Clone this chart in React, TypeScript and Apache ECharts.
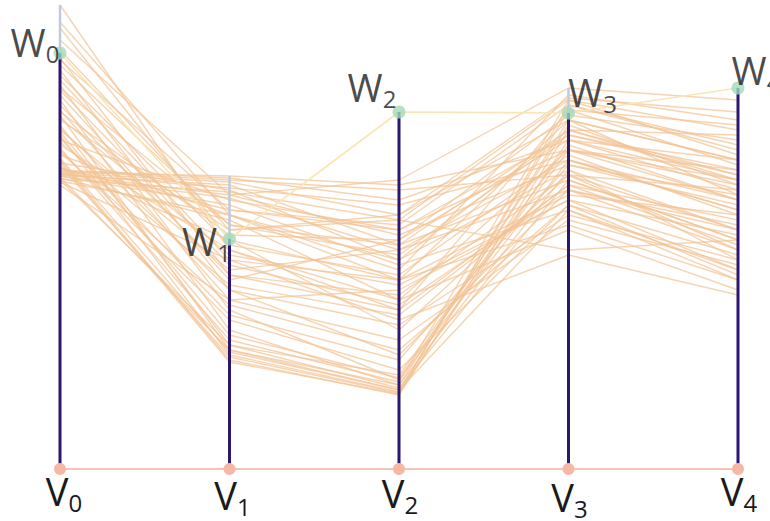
import React, { useEffect, useRef } from "react";
import * as echarts from "echarts";

// Axis names and the level marked on each axis
const axisNames = ["V", "V", "V", "V", "V"];
const markNames = ["W", "W", "W", "W", "W"];
const markLevels = [416, 230, 357, 356, 381];

// Profiles, one value per axis (V0..V4)
const profiles: number[][] = [
  [464, 219, 169, 319, 269],
  [447, 254, 209, 339, 289],
  [441, 229, 139, 294, 239],
  [399, 179, 114, 279, 219],
  [389, 209, 189, 349, 309],
  [384, 159, 89, 309, 259],
  [374, 189, 229, 329, 279],
  [369, 139, 84, 299, 209],
  [359, 169, 179, 269, 199],
  [354, 119, 79, 259, 189],
  [349, 239, 249, 369, 339],
  [344, 124, 81, 289, 229],
  [339, 199, 219, 309, 269],
  [334, 114, 77, 359, 304],
  [329, 269, 239, 319, 284],
  [324, 219, 159, 284, 249],
  [319, 149, 99, 264, 214],
  [314, 254, 199, 374, 349],
  [309, 109, 74, 339, 294],
  [306, 279, 209, 299, 239],
  [302, 229, 189, 274, 254],
  [299, 291, 269, 329, 309],
  [297, 293, 284, 319, 299],
  [296, 287, 254, 349, 274],
  [295, 274, 234, 304, 264],
  [294, 284, 224, 289, 229],
  [293, 264, 204, 259, 199],
  [292, 119, 84, 344, 284],
  [291, 249, 169, 239, 179],
  [289, 124, 94, 324, 269],
  [287, 209, 149, 214, 174],
  [284, 169, 129, 249, 204],
  [409, 259, 244, 364, 319],
  [404, 244, 214, 334, 294],
  [394, 224, 194, 314, 254],
  [379, 204, 164, 279, 244],
  [364, 194, 174, 294, 219],
  [357, 234, 229, 354, 329],
  [351, 214, 184, 269, 234],
  [341, 179, 144, 254, 209],
  [331, 154, 109, 304, 274],
  [321, 129, 87, 369, 314],
  [311, 117, 79, 349, 309],
  [304, 112, 76, 329, 289],
  [298, 289, 279, 294, 279],
  [295, 281, 264, 309, 259],
  [293, 271, 219, 279, 239],
  [301, 259, 239, 334, 299],
  [327, 184, 154, 284, 224],
  [317, 164, 119, 264, 194],
  [429, 274, 289, 381, 369],
  [419, 239, 254, 371, 357],
  [411, 194, 159, 359, 344],
  [381, 244, 224, 339, 334],
  [337, 134, 91, 319, 289],
  [307, 107, 75, 364, 324],
  [290, 277, 249, 219, 229],
  [288, 254, 189, 244, 189],
];

const FONT = "'Open Sans', 'Noto Sans', sans-serif";

const richStyle = {
  m: { fontSize: 38, fontFamily: FONT, fontWeight: 400, color: "#1a1a1a", lineHeight: 38, verticalAlign: "top" },
  s: { fontSize: 24, fontFamily: FONT, fontWeight: 400, color: "#1a1a1a", lineHeight: 42, verticalAlign: "bottom" },
};

// Label box offsets from each point (W marks and V base points)
const markLabelOffsets: [number, number][] = [
  [-25, -9],
  [-23, 4],
  [-27, -23],
  [24, -19],
  [18, -16],
];
const axisLabelOffsets: [number, number][] = [
  [4, 24],
  [3, 28],
  [1, 26],
  [1, 30],
  [1, 24],
];

export default function App() {
  const ref = useRef<HTMLDivElement>(null);

  useEffect(() => {
    if (!ref.current) return;
    const chart = echarts.init(ref.current, null, { renderer: "svg" });

    const nAxes = markLevels.length;
    const topLevels = markLevels.map((w, i) =>
      Math.max(w, ...profiles.map((p) => p[i]))
    );

    const series: any[] = [];

    profiles.forEach((p, k) => {
      series.push({
        type: "line",
        name: "p" + k,
        data: p.map((v, i) => [i, v]),
        showSymbol: false,
        silent: true,
        clip: false,
        z: 2,
        lineStyle: { color: "#f2c494", width: 1.4, opacity: 0.72 },
      });
    });

    // Line through the marked levels
    series.push({
      type: "line",
      data: markLevels.map((v, i) => [i, v]),
      showSymbol: false,
      silent: true,
      clip: false,
      z: 3,
      lineStyle: { color: "#f8e6b6", width: 1.6 },
    });

    // Axis stems: dark up to the mark, grey above it
    for (let i = 0; i < nAxes; i++) {
      series.push({
        type: "line",
        data: [[i, 0], [i, markLevels[i]]],
        showSymbol: false,
        silent: true,
        clip: false,
        z: 4,
        lineStyle: { color: "#2b1670", width: 3 },
      });
      if (topLevels[i] > markLevels[i]) {
        series.push({
          type: "line",
          data: [[i, markLevels[i]], [i, topLevels[i]]],
          showSymbol: false,
          silent: true,
          clip: false,
          z: 4,
          lineStyle: { color: "#bfcadc", width: 2.5 },
        });
      }
    }

    // Base line with V points
    series.push({
      type: "line",
      data: axisNames.map((_, i) => ({
        value: [i, 0],
        label: { show: true, position: "inside", offset: axisLabelOffsets[i] },
      })),
      symbol: "circle",
      symbolSize: 12,
      showSymbol: true,
      silent: true,
      clip: false,
      z: 5,
      itemStyle: { color: "#f6b8a5" },
      lineStyle: { color: "#f6c3b7", width: 2 },
      label: {
        show: true,
        formatter: (p: any) => `{m|${axisNames[p.dataIndex]}}{s|${p.dataIndex}}`,
        rich: richStyle,
      },
    });

    // Marked points W
    series.push({
      type: "scatter",
      data: markLevels.map((v, i) => ({
        value: [i, v],
        label: { show: true, position: "inside", offset: markLabelOffsets[i] },
      })),
      symbol: "circle",
      symbolSize: 13,
      silent: true,
      clip: false,
      z: 6,
      itemStyle: { color: "#a3d9bd" },
      label: {
        show: true,
        formatter: (p: any) => `{m|${markNames[p.dataIndex]}}{s|${p.dataIndex}}`,
        rich: richStyle,
      },
    });

    chart.setOption({
      animation: false,
      grid: { left: 60, right: 32, top: 0, bottom: 52 },
      xAxis: { type: "value", min: 0, max: nAxes - 1, show: false },
      yAxis: { type: "value", min: 0, max: 469, show: false },
      series,
    });

    return () => chart.dispose();
  }, []);

  return <div ref={ref} style={{ width: 770, height: 521, position: "absolute", left: 0, top: 0 }} />;
}
